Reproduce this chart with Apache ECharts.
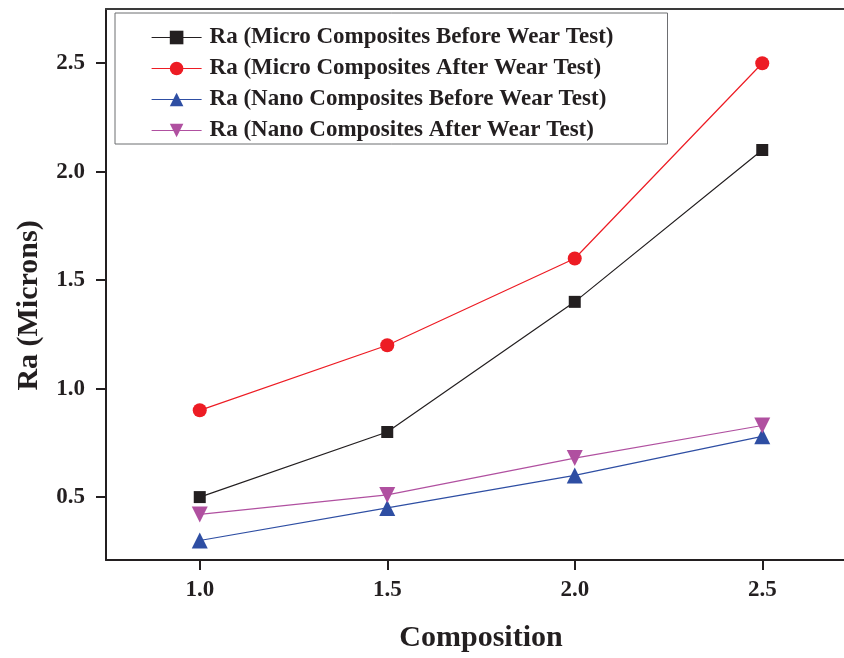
<!DOCTYPE html>
<html>
<head>
<meta charset="utf-8">
<script src="https://cdn.jsdelivr.net/npm/echarts@6/dist/echarts.min.js"></script>
<style>html,body{margin:0;padding:0;background:#fff}#c{width:844px;height:658px}</style>
</head>
<body>
<div id="c"></div>
<script>
const compositions = [1.0, 1.5, 2.0, 2.5];
const microBefore = [0.5, 0.8, 1.4, 2.1];
const microAfter = [0.9, 1.2, 1.6, 2.5];
const nanoBefore = [0.3, 0.45, 0.6, 0.78];
const nanoAfter = [0.42, 0.51, 0.68, 0.83];
const xTicks = [1.0, 1.5, 2.0, 2.5];
const yTicks = [0.5, 1.0, 1.5, 2.0, 2.5];
const seriesNames = [
  'Ra (Micro Composites Before Wear Test)',
  'Ra (Micro Composites After Wear Test)',
  'Ra (Nano Composites Before Wear Test)',
  'Ra (Nano Composites After Wear Test)'
];

const FONT = '"Liberation Serif", "Times New Roman", serif';
const INK = '#231f20';
const chart = echarts.init(document.getElementById('c'), null, {renderer: 'canvas'});
function pairs(vals){ return compositions.map((x,i)=>[x, vals[i]]); }
function mk(name, vals, color, symbol, size, rotate){
  return {
    name, type: 'line', data: pairs(vals), symbol, symbolSize: size, symbolRotate: rotate || 0,
    lineStyle: {color, width: 1.2}, itemStyle: {color}, z: 3, animation: false
  };
}
chart.setOption({
  animation: false,
  grid: {left: 106, top: 9, right: 0, bottom: 97},
  legend: {
    orient: 'vertical', left: 115, top: 13,
    padding: [13, 54, 2, 36],
    borderColor: '#6d6e71', borderWidth: 1,
    itemWidth: 50, itemHeight: 17, itemGap: 8,
    lineStyle: {width: 1.2},
    textStyle: {fontFamily: FONT, fontWeight: 'bold', fontSize: 23, color: INK, lineHeight: 17, padding: [0,0,0,3]},
    data: seriesNames
  },
  xAxis: [{
    type: 'value', min: 0.75, max: 2.718,
    axisLine: {lineStyle: {color: INK, width: 2}},
    axisTick: {show: true, length: 10, lineStyle: {color: INK, width: 2}, customValues: xTicks},
    axisLabel: {customValues: xTicks, margin: 19, fontFamily: FONT, fontWeight: 'bold', fontSize: 23, color: INK,
      formatter: v => v.toFixed(1)},
    splitLine: {show: false},
    name: 'Composition', nameLocation: 'middle', nameGap: 63,
    nameTextStyle: {fontFamily: FONT, fontWeight: 'bold', fontSize: 30, color: INK, padding: [0, 0, 0, 12]}
  }, {
    type: 'value', position: 'top', min: 0.75, max: 2.718,
    axisLine: {show: true, lineStyle: {color: '#3a3a3a', width: 2}},
    axisTick: {show: false}, axisLabel: {show: false}, splitLine: {show: false}
  }],
  yAxis: {
    type: 'value', min: 0.21, max: 2.75,
    axisLine: {show: true, lineStyle: {color: INK, width: 2}},
    axisTick: {show: true, length: 10, lineStyle: {color: INK, width: 2}, customValues: yTicks},
    axisLabel: {customValues: yTicks, margin: 21, fontFamily: FONT, fontWeight: 'bold', fontSize: 23, color: INK,
      formatter: v => v.toFixed(1)},
    splitLine: {show: false},
    name: 'Ra (Microns)', nameLocation: 'middle', nameGap: 62,
    nameTextStyle: {fontFamily: FONT, fontWeight: 'bold', fontSize: 30, color: INK, padding: [0, 42, 0, 0]}
  },
  series: [
    mk(seriesNames[0], microBefore, INK, 'rect', 12),
    mk(seriesNames[1], microAfter, '#ed1c24', 'circle', 14),
    mk(seriesNames[2], nanoBefore, '#2e4ea3', 'triangle', 16),
    mk(seriesNames[3], nanoAfter, '#b050a0', 'triangle', 16, 180)
  ]
});
</script>
</body>
</html>
